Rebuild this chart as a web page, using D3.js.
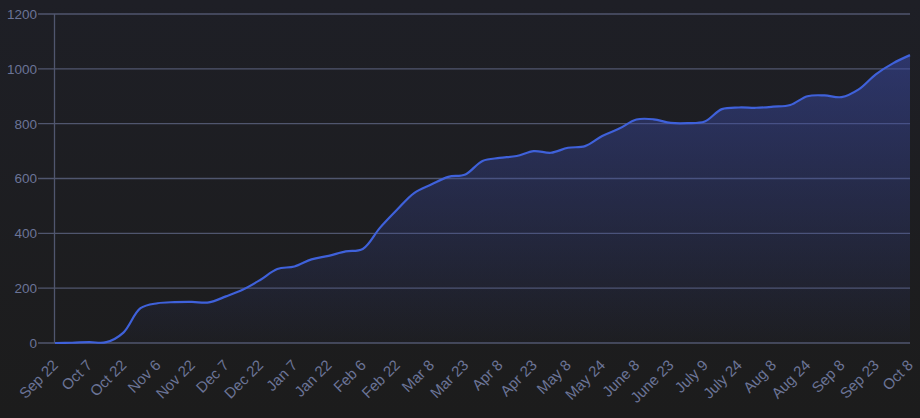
<!DOCTYPE html>
<html>
<head>
<meta charset="utf-8">
<script src="https://cdn.jsdelivr.net/npm/d3@7"></script>
<style>
html,body{margin:0;padding:0;background:#1c1c1c;}
svg{display:block;}
</style>
</head>
<body>
<svg id="chart" width="920" height="418"></svg>
<script>
const dates = ["Sep 22","Sep 30","Oct 7","Oct 15","Oct 22","Oct 30","Nov 6","Nov 14","Nov 22","Nov 30","Dec 7","Dec 15","Dec 22","Dec 30","Jan 7","Jan 15","Jan 22","Jan 30","Feb 6","Feb 14","Feb 22","Mar 1","Mar 8","Mar 16","Mar 23","Mar 31","Apr 8","Apr 16","Apr 23","May 1","May 8","May 16","May 24","June 1","June 8","June 16","June 23","July 1","July 9","July 17","July 24","Aug 1","Aug 8","Aug 16","Aug 24","Sep 1","Sep 8","Sep 16","Sep 23","Oct 1","Oct 8"];
const values = [0,1,3,3,38,127,145,149,150,148,170,195,230,270,279,305,318,334,343,420,486,547,578,606,615,664,675,682,700,694,712,718,755,782,815,816,803,802,808,853,859,858,862,868,900,903,897,925,980,1020,1050];
const tickLabels = ["Sep 22","Oct 7","Oct 22","Nov 6","Nov 22","Dec 7","Dec 22","Jan 7","Jan 22","Feb 6","Feb 22","Mar 8","Mar 23","Apr 8","Apr 23","May 8","May 24","June 8","June 23","July 9","July 24","Aug 8","Aug 24","Sep 8","Sep 23","Oct 8"];
const yTicks = [0,200,400,600,800,1000,1200];

const W = 920, H = 418;
const m = {left:55, right:10, top:14, bottom:75};
const svg = d3.select("#chart");
const defs = svg.append("defs");

const bg = defs.append("linearGradient").attr("id","bg").attr("x1",0).attr("y1",0).attr("x2",0).attr("y2",1);
bg.append("stop").attr("offset","0%").attr("stop-color","#1e1f26");
bg.append("stop").attr("offset","100%").attr("stop-color","#1c1c1c");
svg.append("rect").attr("width",W).attr("height",H).attr("fill","url(#bg)");

const x = d3.scalePoint().domain(dates).range([m.left, W - m.right]);
const y = d3.scaleLinear().domain([0,1200]).range([H - m.bottom, m.top]);

const ag = defs.append("linearGradient").attr("id","area").attr("gradientUnits","userSpaceOnUse")
  .attr("x1",0).attr("y1",y(1200)).attr("x2",0).attr("y2",y(0));
ag.append("stop").attr("offset","0%").attr("stop-color","#3a4aa8").attr("stop-opacity",0.6);
ag.append("stop").attr("offset","100%").attr("stop-color","#3a4aa8").attr("stop-opacity",0.03);

const gridColor = "#50566e";
const textColor = "#6b7497";
const font = "Liberation Sans, Arial, Helvetica, sans-serif";

// horizontal grid + y labels
const yg = svg.append("g");
yTicks.forEach(t => {
  yg.append("line").attr("x1",38).attr("x2",W - m.right).attr("y1",y(t)).attr("y2",y(t))
    .attr("stroke",gridColor).attr("stroke-width",1.3);
  yg.append("text").attr("x",37).attr("y",y(t)).attr("dy","0.36em")
    .attr("text-anchor","end").attr("fill",textColor)
    .attr("font-family",font).attr("font-size",13.5).text(t);
});
// y axis line
svg.append("line").attr("x1",m.left-0.5).attr("x2",m.left-0.5).attr("y1",y(1200)).attr("y2",y(0))
  .attr("stroke",gridColor).attr("stroke-width",1.3);

const data = dates.map((d,i)=>({d, v: values[i]}));
const curve = d3.curveCatmullRom.alpha(0.5);
const area = d3.area().x(p=>x(p.d)).y0(y(0)).y1(p=>y(p.v)).curve(curve);
const line = d3.line().x(p=>x(p.d)).y(p=>y(p.v)).curve(curve);

svg.append("path").datum(data).attr("d",area).attr("fill","url(#area)");
svg.append("path").datum(data).attr("d",line).attr("fill","none")
  .attr("stroke","#3f61da").attr("stroke-width",2.2).attr("stroke-linejoin","round");

// x labels
const xg = svg.append("g");
tickLabels.forEach(lbl => {
  const px = x(lbl);
  xg.append("text")
    .attr("transform",`translate(${px+4},${366}) rotate(-45)`)
    .attr("text-anchor","end").attr("fill",textColor)
    .attr("font-family",font).attr("font-size",15).text(lbl);
});
</script>
</body>
</html>
